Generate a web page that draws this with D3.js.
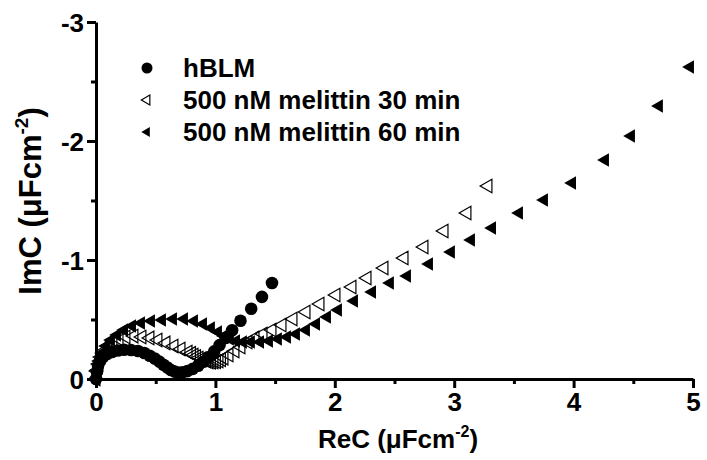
<!DOCTYPE html>
<html><head><meta charset="utf-8">
<script src="https://cdn.jsdelivr.net/npm/d3@7"></script>
<style>body{margin:0;background:#fff}svg text{font-family:"Liberation Sans",Arial,sans-serif;font-weight:bold}</style>
</head><body><svg id="c" width="707" height="460"></svg>
<script>
const seriesNames = ["hBLM", "500 nM melittin 30 min", "500 nM melittin 60 min"];
const xTicks = [0, 1, 2, 3, 4, 5];
const yTicks = [0, -1, -2, -3];
const yTickLabels = ["0", "-1", "-2", "-3"];

const hBLM_re = [0,0.008,0.017,0.034,0.059,0.092,0.134,0.184,0.235,0.293,0.352,0.405,0.450,0.492,0.530,0.565,0.598,0.628,0.658,0.690,0.725,0.765,0.810,0.856,0.900,0.945,0.990,1.035,1.085,1.140,1.210,1.300,1.390,1.474];
const hBLM_im = [0,-0.059,-0.109,-0.151,-0.185,-0.210,-0.227,-0.240,-0.246,-0.244,-0.235,-0.218,-0.196,-0.172,-0.146,-0.120,-0.096,-0.076,-0.062,-0.055,-0.056,-0.066,-0.085,-0.112,-0.145,-0.185,-0.232,-0.285,-0.345,-0.410,-0.490,-0.590,-0.690,-0.807];

const m30_re = [0,0.008,0.025,0.042,0.067,0.101,0.142,0.193,0.251,0.318,0.385,0.452,0.519,0.586,0.653,0.712,0.771,0.800,0.821,0.842,0.863,0.884,0.905,0.925,0.946,0.967,0.988,1.009,1.030,1.051,1.072,1.114,1.164,1.214,1.273,1.332,1.399,1.474,1.558,1.650,1.759,1.876,2.010,2.144,2.270,2.412,2.580,2.747,2.915,3.107,3.283];
const m30_im = [0,-0.067,-0.126,-0.185,-0.235,-0.277,-0.311,-0.336,-0.353,-0.361,-0.353,-0.345,-0.328,-0.303,-0.277,-0.252,-0.227,-0.215,-0.202,-0.189,-0.176,-0.168,-0.160,-0.151,-0.143,-0.141,-0.143,-0.146,-0.151,-0.162,-0.176,-0.202,-0.235,-0.269,-0.311,-0.345,-0.378,-0.412,-0.454,-0.504,-0.563,-0.630,-0.706,-0.773,-0.849,-0.933,-1.017,-1.109,-1.244,-1.395,-1.622];

const m60_re = [0,0.008,0.025,0.050,0.084,0.126,0.176,0.235,0.302,0.377,0.461,0.553,0.645,0.737,0.821,0.896,0.963,1.022,1.072,1.122,1.173,1.231,1.298,1.374,1.449,1.524,1.600,1.675,1.759,1.843,1.935,2.027,2.161,2.312,2.462,2.605,2.789,2.973,3.141,3.317,3.543,3.752,3.987,4.263,4.481,4.715,4.975];
const m60_im = [0,-0.076,-0.151,-0.218,-0.277,-0.328,-0.370,-0.412,-0.445,-0.471,-0.487,-0.496,-0.504,-0.504,-0.487,-0.462,-0.429,-0.395,-0.361,-0.336,-0.319,-0.311,-0.311,-0.311,-0.319,-0.336,-0.353,-0.378,-0.412,-0.462,-0.521,-0.580,-0.655,-0.731,-0.807,-0.866,-0.966,-1.067,-1.168,-1.269,-1.395,-1.504,-1.647,-1.840,-2.042,-2.294,-2.622];

const svg = d3.select("#c");
const x = d3.scaleLinear().domain([0, 5]).range([96, 693]);
const y = d3.scaleLinear().domain([0, -3]).range([379, 22]);

// axes
const xAxis = svg.append("g").attr("transform", "translate(0,379)");
xAxis.call(d3.axisBottom(x).tickValues(xTicks).tickSize(9).tickSizeOuter(0).tickFormat(d3.format("d")));
const xMinor = svg.append("g").attr("transform", "translate(0,379)");
xMinor.call(d3.axisBottom(x).tickValues([0.5,1.5,2.5,3.5,4.5]).tickSize(5).tickSizeOuter(0).tickFormat(""));
xMinor.select(".domain").remove();
const yAxis = svg.append("g").attr("transform", "translate(96,0)");
yAxis.call(d3.axisLeft(y).tickValues(yTicks).tickSize(9).tickSizeOuter(0).tickFormat((d,i) => yTickLabels[i]));
const yMinor = svg.append("g").attr("transform", "translate(96,0)");
yMinor.call(d3.axisLeft(y).tickValues([-0.5,-1.5,-2.5]).tickSize(5).tickSizeOuter(0).tickFormat(""));
yMinor.select(".domain").remove();

svg.selectAll(".domain").attr("stroke", "#000").attr("stroke-width", 3);
svg.selectAll(".tick line").attr("stroke", "#000").attr("stroke-width", 3);
xAxis.selectAll(".tick text").attr("font-size", 26).attr("y", 12).attr("dy", "0.75em").attr("fill", "#000");
yAxis.selectAll(".tick text").attr("font-size", 26).attr("x", -12).attr("dy", "0.36em").attr("fill", "#000");

// axis titles
const xt = svg.append("text").attr("x", 398).attr("y", 448).attr("text-anchor", "middle").attr("font-size", 26);
xt.append("tspan").text("ReC (\u03BCFcm");
xt.append("tspan").text("-2").attr("font-size", 16).attr("dy", -11);
xt.append("tspan").text(")").attr("dy", 11);

const yt = svg.append("text").attr("transform", "translate(41,201) rotate(-90)").attr("text-anchor", "middle").attr("font-size", 31);
yt.append("tspan").text("ImC (\u03BCFcm");
yt.append("tspan").text("-2").attr("font-size", 19).attr("dy", -13);
yt.append("tspan").text(")").attr("dy", 13);

// data
const tri = d3.symbol().type(d3.symbolTriangle).size(80);
const triL = d3.symbol().type(d3.symbolTriangle).size(42);
const d30 = m30_re.map((v, i) => [v, m30_im[i]]);
const d60 = m60_re.map((v, i) => [v, m60_im[i]]);
const dB = hBLM_re.map((v, i) => [v, hBLM_im[i]]);

svg.append("g").selectAll("path").data(d30).join("path")
  .attr("d", tri).attr("transform", d => `translate(${x(d[0])},${y(d[1])}) rotate(-90)`)
  .attr("fill", "none").attr("stroke", "#000").attr("stroke-width", 1.2);
svg.append("g").selectAll("path").data(d60).join("path")
  .attr("d", tri).attr("transform", d => `translate(${x(d[0])},${y(d[1])}) rotate(-90)`)
  .attr("fill", "#000");
svg.append("g").selectAll("circle").data(dB).join("circle")
  .attr("cx", d => x(d[0])).attr("cy", d => y(d[1])).attr("r", 6.3).attr("fill", "#000");

// legend
const leg = svg.append("g");
const ly = [68, 100, 132];
leg.append("circle").attr("cx", 147).attr("cy", ly[0]).attr("r", 5.5).attr("fill", "#000");
leg.append("path").attr("d", triL).attr("transform", `translate(147,${ly[1]}) rotate(-90)`).attr("fill", "none").attr("stroke", "#000").attr("stroke-width", 1.2);
leg.append("path").attr("d", triL).attr("transform", `translate(147,${ly[2]}) rotate(-90)`).attr("fill", "#000");
seriesNames.forEach((n, i) => {
  leg.append("text").attr("x", 183).attr("y", ly[i]).attr("dy", "0.36em").attr("font-size", 26).text(n);
});
</script></body></html>
